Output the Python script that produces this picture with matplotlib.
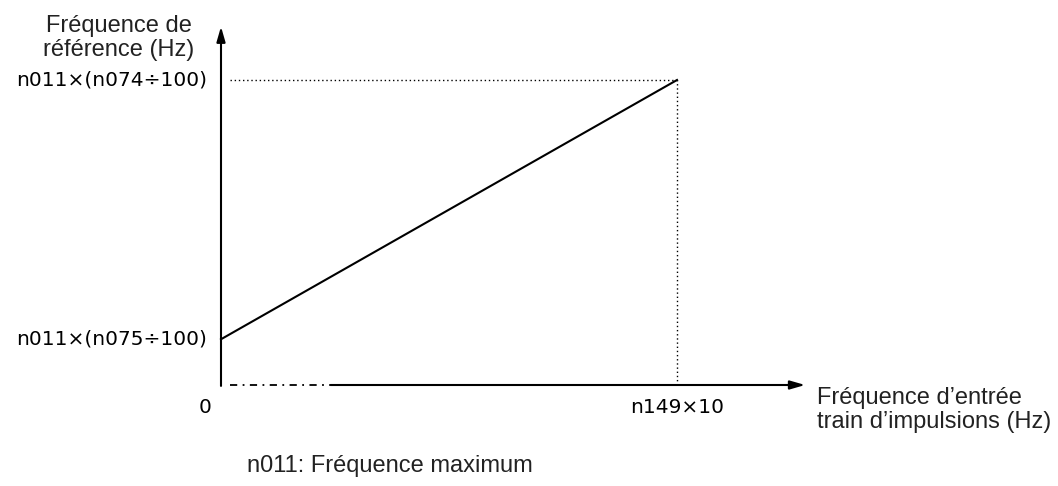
import matplotlib
matplotlib.use("Agg")
import matplotlib.pyplot as plt

# Data (normalised: x = pulse train input / (n149 x 10), y = ref freq / n011 scale)
x_points = [0.0, 1.0]
y_points = [0.15, 1.0]
x_tick_labels = ["0", "n149\u00d710"]
y_tick_labels = ["n011\u00d7(n075\u00f7100)", "n011\u00d7(n074\u00f7100)"]
y_title = "Fréquence de\nréférence (Hz)"
x_title = "Fréquence d\u2019entrée\ntrain d\u2019impulsions (Hz)"
footnote = "n011: Fréquence maximum"

plt.rcParams['font.family'] = ['Liberation Sans', 'DejaVu Sans']

W, H = 1058, 486
fig = plt.figure(figsize=(W / 100, H / 100), dpi=100)
ax = fig.add_axes([221 / W, 101 / H, 456 / W, 305 / H])
ax.set_xlim(0, 1)
ax.set_ylim(0, 1)
ax.axis("off")

# main line
ax.plot(x_points, y_points, color="black", lw=1.5, clip_on=False)

# dotted guides
ax.plot([0.02, x_points[1]], [y_points[1], y_points[1]], color="black",
        lw=1, linestyle=(0, (1, 2)), clip_on=False)
ax.plot([x_points[1], x_points[1]], [0, y_points[1]], color="black",
        lw=1, linestyle=(0, (1, 2)), clip_on=False)

# axes with arrows
arrow = dict(arrowstyle="-|>,head_length=0.9,head_width=0.26",
             color="black", lw=1.5, shrinkA=0, shrinkB=0)
ax.annotate("", xy=(0, 1.175), xytext=(0, -0.003), arrowprops=arrow,
            annotation_clip=False)
ax.plot([0.02, 0.24], [0, 0], color="black", lw=1.3,
        linestyle=(0, (4, 3, 1, 3)), clip_on=False)
ax.annotate("", xy=(1.281, 0), xytext=(0.24, 0), arrowprops=arrow,
            annotation_clip=False)

# tick labels
tick_font = dict(family="DejaVu Sans", fontsize=14.5, color="black")
ax.text(-0.03, y_points[0], y_tick_labels[0], ha="right", va="center", **tick_font)
ax.text(-0.03, y_points[1], y_tick_labels[1], ha="right", va="center", **tick_font)
ax.text(-0.035, -0.075, x_tick_labels[0], ha="center", va="center", **tick_font)
ax.text(x_points[1], -0.075, x_tick_labels[1], ha="center", va="center", **tick_font)

# titles
fig.text(119 / W, 1 - 38 / H, y_title, ha="center", va="center",
         fontsize=17, color="#222222", linespacing=1.15)
fig.text(817 / W, 1 - 410 / H, x_title, ha="left", va="center",
         fontsize=17, color="#222222", linespacing=1.15)
fig.text(247 / W, 1 - 466 / H, footnote, ha="left", va="center",
         fontsize=17, color="#222222")

fig.savefig("out.png", dpi=100)
